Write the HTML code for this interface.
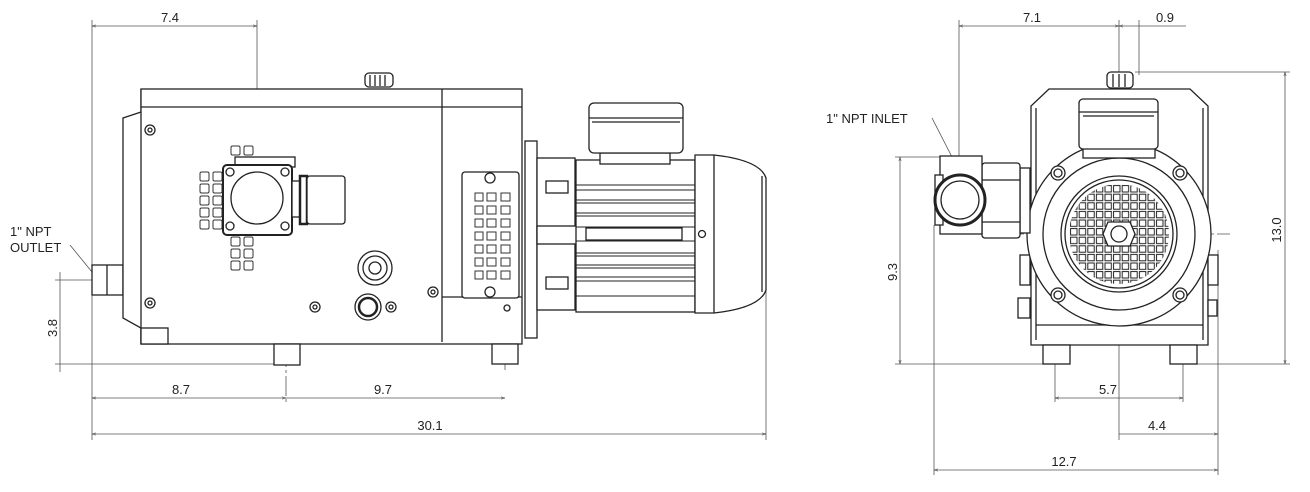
<!DOCTYPE html>
<html><head><meta charset="utf-8"><style>
html,body{margin:0;padding:0;background:#fff;width:1310px;height:492px;overflow:hidden}
svg{display:block}
text{font-family:"Liberation Sans",Arial,sans-serif;font-size:13px;fill:#222}
</style></head><body>
<svg width="1310" height="492" viewBox="0 0 1310 492" xmlns="http://www.w3.org/2000/svg">
<defs>
<marker id="a" viewBox="0 0 10 10" refX="10" refY="5" markerWidth="7" markerHeight="5" orient="auto-start-reverse"><path d="M0,2 L10,5 L0,8" fill="none" stroke="#444" stroke-width="1.2"/></marker>
<pattern id="sq" x="1061" y="176" width="8.6" height="8.6" patternUnits="userSpaceOnUse"><rect x="1" y="1" width="6.4" height="6.4" fill="none" stroke="#222" stroke-width="1"/></pattern>
<clipPath id="gc"><circle cx="1119" cy="234" r="50"/></clipPath>
</defs>

<g fill="none" stroke="#555" stroke-width="0.8">
<line x1="92" y1="20" x2="92" y2="440"/>
<line x1="257" y1="20" x2="257" y2="265"/>
<line x1="92" y1="26" x2="257" y2="26" marker-start="url(#a)" marker-end="url(#a)"/>
<line x1="286" y1="260" x2="286" y2="404" stroke-dasharray="20 3 3 3"/>
<line x1="505" y1="330" x2="505" y2="370"/>
<line x1="766" y1="258" x2="766" y2="440"/>
<line x1="92" y1="398" x2="286" y2="398" marker-start="url(#a)" marker-end="url(#a)"/>
<line x1="286" y1="398" x2="505" y2="398" marker-end="url(#a)"/>
<line x1="92" y1="434" x2="766" y2="434" marker-start="url(#a)" marker-end="url(#a)"/>
<line x1="55" y1="280" x2="115" y2="280"/>
<line x1="55" y1="364" x2="274" y2="364"/>
<line x1="60" y1="272" x2="60" y2="372"/>
<line x1="70" y1="245" x2="92" y2="272"/>
<line x1="959" y1="20" x2="959" y2="160"/>
<line x1="1119" y1="20" x2="1119" y2="440"/>
<line x1="1139" y1="20" x2="1139" y2="75"/>
<line x1="959" y1="26" x2="1119" y2="26" marker-start="url(#a)" marker-end="url(#a)"/>
<line x1="1119" y1="26" x2="1186" y2="26" marker-start="url(#a)"/>
<line x1="1135" y1="72" x2="1290" y2="72"/>
<line x1="1285" y1="72" x2="1285" y2="364" marker-start="url(#a)" marker-end="url(#a)"/>
<line x1="895" y1="157" x2="960" y2="157"/>
<line x1="900" y1="157" x2="900" y2="364" marker-start="url(#a)" marker-end="url(#a)"/>
<line x1="895" y1="364" x2="1043" y2="364"/>
<line x1="1197" y1="364" x2="1290" y2="364"/>
<line x1="1055" y1="330" x2="1055" y2="402"/>
<line x1="1183" y1="330" x2="1183" y2="402"/>
<line x1="1055" y1="398" x2="1183" y2="398" marker-start="url(#a)" marker-end="url(#a)"/>
<line x1="1218" y1="250" x2="1218" y2="475"/>
<line x1="934" y1="225" x2="934" y2="475"/>
<line x1="1119" y1="434" x2="1218" y2="434" marker-end="url(#a)"/>
<line x1="934" y1="470" x2="1218" y2="470" marker-start="url(#a)" marker-end="url(#a)"/>
<line x1="932" y1="118" x2="952" y2="157"/>
<line x1="1010" y1="234" x2="1230" y2="234" stroke-dasharray="14 3 3 3"/>
</g>

<g fill="#fff" stroke="#222" stroke-width="1.3">
<rect x="92" y="265" width="31" height="30"/><line x1="107" y1="265" x2="107" y2="295"/>
<path d="M141,89 L141,112 L123,118 L123,318 L141,328 L141,344"/>
<rect x="141" y="89" width="381" height="255"/>
<line x1="141" y1="107" x2="522" y2="107"/>
<line x1="442" y1="89" x2="442" y2="342"/>
<line x1="442" y1="297" x2="522" y2="297"/>
<rect x="141" y="328" width="27" height="16"/>
<rect x="274" y="344" width="26" height="21"/>
<rect x="492" y="344" width="26" height="20"/>
<rect x="365" y="73" width="28" height="14" rx="4"/>
<line x1="370" y1="75" x2="370" y2="86"/><line x1="375" y1="75" x2="375" y2="86"/><line x1="380" y1="75" x2="380" y2="86"/><line x1="385" y1="75" x2="385" y2="86"/>
<circle cx="150" cy="130" r="5"/><circle cx="150" cy="130" r="2"/>
<circle cx="150" cy="303" r="5"/><circle cx="150" cy="303" r="2"/>
<circle cx="433" cy="292" r="5"/><circle cx="433" cy="292" r="2"/>
<circle cx="315" cy="307" r="5"/><circle cx="315" cy="307" r="2"/>
<circle cx="391" cy="307" r="5"/><circle cx="391" cy="307" r="2"/>
<circle cx="375" cy="268" r="17"/><circle cx="375" cy="268" r="12"/><circle cx="375" cy="268" r="6"/>
<circle cx="368" cy="307" r="13"/><circle cx="368" cy="307" r="9" stroke-width="2.5"/>
<g stroke-width="1" stroke="#333">
<rect x="200" y="172" width="9" height="9" rx="1.5"/><rect x="213" y="172" width="9" height="9" rx="1.5"/>
<rect x="200" y="184" width="9" height="9" rx="1.5"/><rect x="213" y="184" width="9" height="9" rx="1.5"/>
<rect x="200" y="196" width="9" height="9" rx="1.5"/><rect x="213" y="196" width="9" height="9" rx="1.5"/>
<rect x="200" y="208" width="9" height="9" rx="1.5"/><rect x="213" y="208" width="9" height="9" rx="1.5"/>
<rect x="200" y="220" width="9" height="9" rx="1.5"/><rect x="213" y="220" width="9" height="9" rx="1.5"/>
<rect x="231" y="146" width="9" height="9" rx="1.5"/><rect x="244" y="146" width="9" height="9" rx="1.5"/>
<rect x="231" y="237" width="9" height="9" rx="1.5"/><rect x="244" y="237" width="9" height="9" rx="1.5"/>
<rect x="231" y="249" width="9" height="9" rx="1.5"/><rect x="244" y="249" width="9" height="9" rx="1.5"/>
<rect x="231" y="261" width="9" height="9" rx="1.5"/><rect x="244" y="261" width="9" height="9" rx="1.5"/>
</g>
<rect x="235" y="157" width="60" height="10"/>
<rect x="223" y="165" width="69" height="70" rx="4" stroke-width="2"/>
<circle cx="257" cy="198" r="26"/>
<circle cx="230" cy="172" r="4"/><circle cx="285" cy="172" r="4"/><circle cx="230" cy="226" r="4"/><circle cx="285" cy="226" r="4"/>
<rect x="292" y="181" width="8" height="36"/>
<rect x="300" y="176" width="7" height="48" stroke-width="2.5"/>
<rect x="307" y="176" width="38" height="48" rx="3"/>
<rect x="462" y="172" width="57" height="126" rx="3"/>
<circle cx="490" cy="178" r="5"/><circle cx="490" cy="292" r="5"/>
<g stroke-width="1" stroke="#333">
<rect x="475" y="193" width="8" height="8"/><rect x="487" y="193" width="9" height="8"/><rect x="501" y="193" width="9" height="8"/>
<rect x="475" y="206" width="8" height="8"/><rect x="487" y="206" width="9" height="8"/><rect x="501" y="206" width="9" height="8"/>
<rect x="475" y="219" width="8" height="8"/><rect x="487" y="219" width="9" height="8"/><rect x="501" y="219" width="9" height="8"/>
<rect x="475" y="232" width="8" height="8"/><rect x="487" y="232" width="9" height="8"/><rect x="501" y="232" width="9" height="8"/>
<rect x="475" y="245" width="8" height="8"/><rect x="487" y="245" width="9" height="8"/><rect x="501" y="245" width="9" height="8"/>
<rect x="475" y="258" width="8" height="8"/><rect x="487" y="258" width="9" height="8"/><rect x="501" y="258" width="9" height="8"/>
<rect x="475" y="271" width="8" height="8"/><rect x="487" y="271" width="9" height="8"/><rect x="501" y="271" width="9" height="8"/>
</g>
<circle cx="507" cy="308" r="3"/>

<rect x="525" y="141" width="12" height="197"/>
<rect x="537" y="158" width="38" height="152"/>
<rect x="546" y="181" width="22" height="12"/><rect x="546" y="277" width="22" height="12"/>
<rect x="537" y="226" width="40" height="18"/>
<rect x="576" y="160" width="119" height="152"/>
<g stroke-width="1.1">
<line x1="576" y1="185" x2="695" y2="185"/><line x1="576" y1="190" x2="695" y2="190"/>
<line x1="576" y1="200" x2="695" y2="200"/><line x1="576" y1="203" x2="695" y2="203"/>
<line x1="576" y1="213" x2="695" y2="213"/><line x1="576" y1="216" x2="695" y2="216"/>
<line x1="576" y1="227" x2="695" y2="227"/><line x1="576" y1="241" x2="695" y2="241"/>
<line x1="576" y1="253" x2="695" y2="253"/><line x1="576" y1="256" x2="695" y2="256"/>
<line x1="576" y1="265" x2="695" y2="265"/><line x1="576" y1="268" x2="695" y2="268"/>
<line x1="576" y1="277" x2="695" y2="277"/><line x1="576" y1="281" x2="695" y2="281"/>
<line x1="576" y1="296" x2="695" y2="296"/>
</g>
<rect x="586" y="228" width="96" height="12"/>
<rect x="600" y="153" width="70" height="11"/>
<rect x="589" y="103" width="94" height="50" rx="5"/>
<line x1="589" y1="118" x2="683" y2="118"/><line x1="592" y1="122" x2="680" y2="122"/>
<path d="M695,155 L714,155 Q760,160 766,178 L766,290 Q760,308 714,313 L695,313 Z"/>
<line x1="714" y1="155" x2="714" y2="313"/>
<line x1="762" y1="176" x2="762" y2="292"/>
<circle cx="702" cy="234" r="3.5"/>

<path d="M1049,89 L1190,89 L1208,106 L1208,345 L1031,345 L1031,106 Z"/>
<line x1="1036" y1="108" x2="1036" y2="340"/><line x1="1203" y1="108" x2="1203" y2="340"/>
<line x1="1036" y1="325" x2="1203" y2="325"/>
<rect x="1043" y="345" width="27" height="19"/>
<rect x="1170" y="345" width="27" height="19"/>
<rect x="1107" y="72" width="26" height="16" rx="4"/>
<line x1="1113" y1="74" x2="1113" y2="87"/><line x1="1119" y1="74" x2="1119" y2="87"/><line x1="1125" y1="74" x2="1125" y2="87"/>
<rect x="1020" y="255" width="10" height="30"/><rect x="1208" y="255" width="10" height="30"/>
<rect x="1018" y="298" width="12" height="20"/><rect x="1208" y="300" width="9" height="16"/>
<circle cx="1119" cy="234" r="92"/>
<circle cx="1119" cy="234" r="76"/>
<circle cx="1119" cy="234" r="58"/>
<circle cx="1119" cy="234" r="54"/>
<rect x="1065" y="180" width="108" height="108" fill="url(#sq)" stroke="none" clip-path="url(#gc)"/>
<polygon points="1108,222 1130,222 1135,234 1130,246 1108,246 1103,234"/>
<circle cx="1119" cy="234" r="8"/>
<circle cx="1058" cy="173" r="7"/><circle cx="1058" cy="173" r="4"/>
<circle cx="1180" cy="173" r="7"/><circle cx="1180" cy="173" r="4"/>
<circle cx="1058" cy="295" r="7"/><circle cx="1058" cy="295" r="4"/>
<circle cx="1180" cy="295" r="7"/><circle cx="1180" cy="295" r="4"/>
<rect x="1083" y="146" width="72" height="12"/>
<rect x="1079" y="99" width="79" height="50" rx="4"/>
<line x1="1079" y1="112" x2="1158" y2="112"/><line x1="1083" y1="116" x2="1154" y2="116"/>
<rect x="1020" y="168" width="10" height="65"/>
<rect x="982" y="163" width="38" height="75" rx="3"/>
<line x1="982" y1="180" x2="1020" y2="180"/><line x1="982" y1="222" x2="1020" y2="222"/>
<rect x="940" y="156" width="42" height="78"/>
<rect x="935" y="175" width="8" height="50"/>
<circle cx="960" cy="200" r="25" stroke-width="3"/>
<circle cx="960" cy="200" r="19"/>
</g>

<text x="170" y="22" text-anchor="middle">7.4</text>
<text x="10" y="236">1" NPT</text>
<text x="10" y="252">OUTLET</text>
<text transform="translate(57,328) rotate(-90)" text-anchor="middle">3.8</text>
<text x="181" y="394" text-anchor="middle">8.7</text>
<text x="383" y="394" text-anchor="middle">9.7</text>
<text x="430" y="430" text-anchor="middle">30.1</text>
<text x="1032" y="22" text-anchor="middle">7.1</text>
<text x="1165" y="22" text-anchor="middle">0.9</text>
<text x="826" y="123">1" NPT INLET</text>
<text transform="translate(897,272) rotate(-90)" text-anchor="middle">9.3</text>
<text transform="translate(1281,230) rotate(-90)" text-anchor="middle">13.0</text>
<text x="1108" y="394" text-anchor="middle">5.7</text>
<text x="1157" y="430" text-anchor="middle">4.4</text>
<text x="1064" y="466" text-anchor="middle">12.7</text>
</svg>
</body></html>
